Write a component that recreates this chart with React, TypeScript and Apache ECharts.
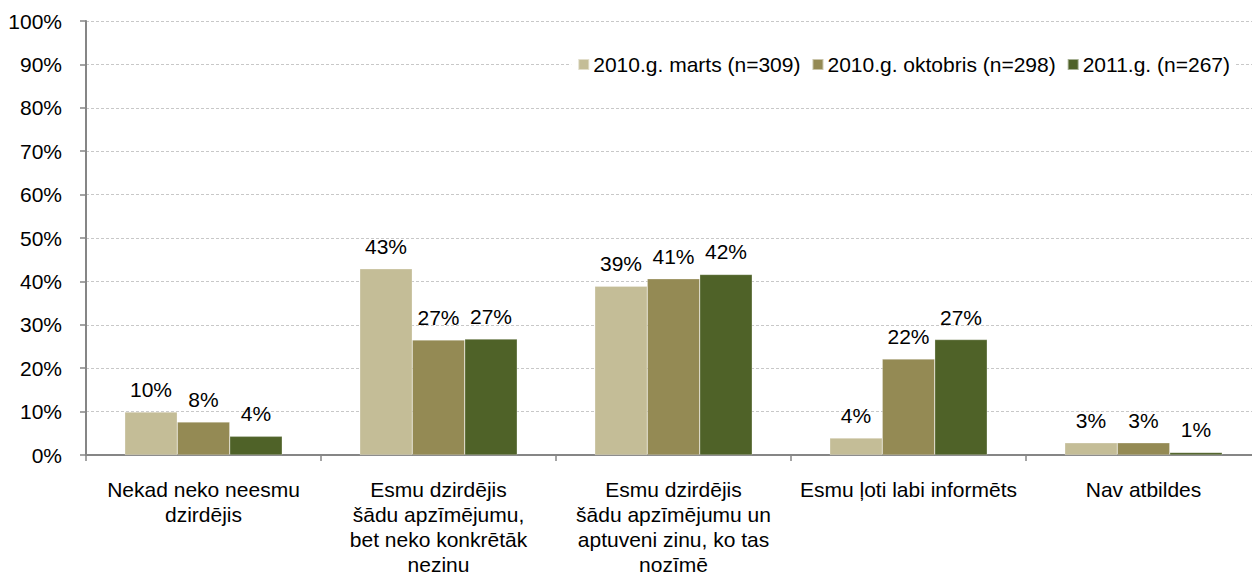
import React, { useEffect, useRef } from "react";
import * as echarts from "echarts";

const categories = [
  "Nekad neko neesmu\ndzirdējis",
  "Esmu dzirdējis\nšādu apzīmējumu,\nbet neko konkrētāk\nnezinu",
  "Esmu dzirdējis\nšādu apzīmējumu un\naptuveni zinu, ko tas\nnozīmē",
  "Esmu ļoti labi informēts",
  "Nav atbildes",
];
const seriesNames = ["2010.g. marts (n=309)", "2010.g. oktobris (n=298)", "2011.g. (n=267)"];
const march2010 = [9.9, 42.9, 38.9, 3.9, 2.8];
const october2010 = [7.6, 26.5, 40.6, 22.1, 2.8];
const year2011 = [4.3, 26.7, 41.6, 26.6, 0.6];
const labels2010m = ["10%", "43%", "39%", "4%", "3%"];
const labels2010o = ["8%", "27%", "41%", "22%", "3%"];
const labels2011 = ["4%", "27%", "42%", "27%", "1%"];
const colors = ["#C4BD97", "#948A54", "#4F6228"];

const FONT = "Liberation Sans, Arial, sans-serif";

export default function App() {
  const ref = useRef<HTMLDivElement>(null);
  useEffect(() => {
    if (!ref.current) return;
    const chart = echarts.init(ref.current, undefined, { renderer: "svg" });
    const allLabels = [labels2010m, labels2010o, labels2011];
    const allData = [march2010, october2010, year2011];
    chart.setOption({
      animation: false,
      textStyle: { fontFamily: FONT },
      grid: { left: 86, right: 9, top: 21, bottom: 118.5, containLabel: false },
      legend: {
        data: seriesNames,
        right: 34,
        top: 52,
        itemWidth: 11,
        itemHeight: 11,
        itemGap: 11,
        icon: "rect",
        backgroundColor: "#ffffff",
        padding: [2, 6, 2, 6],
        textStyle: { fontSize: 21, color: "#000", fontFamily: FONT, padding: [0, 0, 0, -1] },
      },
      xAxis: {
        type: "category",
        data: categories,
        axisLine: { lineStyle: { color: "#868686", width: 2 } },
        axisTick: { show: true, length: 6, lineStyle: { color: "#868686", width: 1.5 } },
        axisLabel: {
          fontSize: 21,
          color: "#000",
          fontFamily: FONT,
          lineHeight: 25,
          margin: 22,
          interval: 0,
        },
      },
      yAxis: {
        type: "value",
        min: 0,
        max: 100,
        interval: 10,
        axisLine: { show: true, lineStyle: { color: "#868686", width: 2 } },
        axisTick: { show: true, length: 6, lineStyle: { color: "#868686", width: 1.5 } },
        axisLabel: { fontSize: 21, color: "#000", fontFamily: FONT, formatter: "{value}%", margin: 24 },
        splitLine: { show: true, lineStyle: { color: "#c8c8c8", type: [3, 2], width: 1 } },
      },
      series: seriesNames.map((name, i) => ({
        name,
        type: "bar",
        data: allData[i],
        barGap: "0%",
        barCategoryGap: "33%",
        itemStyle: { color: colors[i], borderColor: "rgba(255,255,255,0.5)", borderWidth: 0.5 },
        label: {
          show: true,
          position: "top",
          distance: 12,
          fontSize: 21,
          color: "#000",
          fontFamily: FONT,
          formatter: (p: any) => allLabels[i][p.dataIndex],
        },
      })),
    });
    return () => chart.dispose();
  }, []);
  return (
    <div style={{ position: "absolute", left: 0, top: 0, width: 1252, height: 577, overflow: "hidden", background: "#fff" }}>
      <div ref={ref} style={{ width: 1270, height: 577 }} />
    </div>
  );
}
